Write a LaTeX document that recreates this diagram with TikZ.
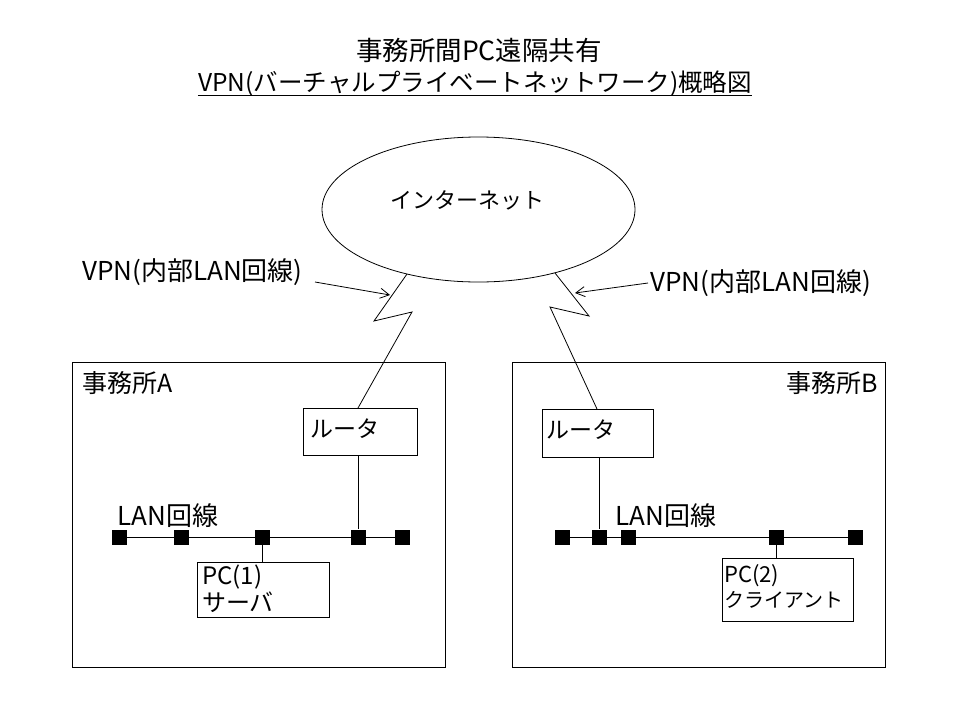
\documentclass[tikz,border=0pt]{standalone}
\usepackage{fontspec}
\setmainfont{Noto Sans CJK JP}
\usetikzlibrary{shapes.geometric,arrows.meta}
\begin{document}
\begin{tikzpicture}[x=1pt,y=-1pt,
  boxline/.style={draw,line width=1pt,anchor=north west,inner sep=0},
  wire/.style={draw,line width=0.8pt},
  sq/.style={fill=black,minimum size=15pt,inner sep=0},
  ttl/.style={font=\fontsize{25}{28}\selectfont,inner sep=0},
  lbl/.style={font=\fontsize{25}{28}\selectfont,inner sep=0},
  small/.style={font=\fontsize{23}{26}\selectfont,inner sep=0},
  arr/.style={draw,line width=0.8pt,-{Straight Barb[length=9pt,width=10pt]}}]
\useasboundingbox (0,0) rectangle (960,720);
\fill[white] (0,0) rectangle (960,720);

% title
\node[ttl,font=\fontsize{26.5}{30}\selectfont] (t1) at (479,50) {事務所間PC遠隔共有};
\node[ttl,font=\fontsize{24.5}{28}\selectfont] (t2) at (475,84) {VPN(バーチャルプライベートネットワーク)概略図};
\draw[line width=1pt] ([yshift=-4pt]t2.base west) -- ([yshift=-4pt]t2.base east);

% internet
\node[draw,ellipse,line width=0.8pt,minimum width=313pt,minimum height=145pt,inner sep=0] (inet) at (478.5,209.5) {};
\node[small,font=\fontsize{22}{26}\selectfont] (inett) at (467,200) {インターネット};

% offices
\node[boxline,minimum width=373pt,minimum height=305pt] (offA) at (72,362) {};
\node[boxline,minimum width=373pt,minimum height=305pt] (offB) at (512,362) {};
\node[lbl,anchor=west] (offAt) at (82,383) {事務所A};
\node[lbl,anchor=east] (offBt) at (878,383) {事務所B};

% routers
\node[boxline,minimum width=114pt,minimum height=47pt] (rA) at (303,408) {};
\node[small,anchor=west] (rAt) at (310,429) {ルータ};
\node[boxline,minimum width=111pt,minimum height=48pt] (rB) at (542,409) {};
\node[small,anchor=west] (rBt) at (546,430) {ルータ};

% PCs
\node[boxline,minimum width=132pt,minimum height=55pt] (pcA) at (197,562) {};
\node[small,anchor=north west,align=left,font=\fontsize{24}{27}\selectfont] (pcAt) at (202,565) {PC(1)\\サーバ};
\node[boxline,minimum width=131pt,minimum height=63pt] (pcB) at (722,558) {};
\node[small,anchor=north west,align=left,font=\fontsize{22}{25}\selectfont] (pcBt) at (724,564) {PC(2)\\{\fontsize{20}{25}\selectfont クライアント}};

% LAN A
\node[lbl,font=\fontsize{26}{30}\selectfont] (lanA) at (168,516) {LAN回線};
\draw[wire] (119,537) -- (402,537);
\node[sq] (a1) at (119,537) {};
\node[sq] (a2) at (181,537) {};
\node[sq] (a3) at (262,537) {};
\node[sq] (a4) at (358,537) {};
\node[sq] (a5) at (402,537) {};
\draw[wire] (a4 |- rA.south) -- (a4);
\draw[wire] (a3) -- (a3 |- pcA.north);

% LAN B
\node[lbl,font=\fontsize{26}{30}\selectfont] (lanB) at (666,516) {LAN回線};
\draw[wire] (562,537) -- (855,537);
\node[sq] (b1) at (562,537) {};
\node[sq] (b2) at (599,537) {};
\node[sq] (b3) at (628,537) {};
\node[sq] (b4) at (776,537) {};
\node[sq] (b5) at (855,537) {};
\draw[wire] (b2 |- rB.south) -- (b2);
\draw[wire] (b4) -- (b4 |- pcB.north);

% lightning links
\coordinate (la1) at (407,274);
\coordinate (la2) at (374,321);
\coordinate (la3) at (412,312);
\coordinate (la4) at (358,408);
\draw[wire] (la1) -- (la2) -- (la3) -- (la4);
\coordinate (lb1) at (555,273);
\coordinate (lb2) at (589,316);
\coordinate (lb3) at (550,307);
\coordinate (lb4) at (597,409);
\draw[wire] (lb1) -- (lb2) -- (lb3) -- (lb4);

% VPN labels
\node[lbl,anchor=west,font=\fontsize{26}{30}\selectfont] (vA) at (82,272) {VPN(内部LAN回線)};
\node[lbl,anchor=west,font=\fontsize{26}{30}\selectfont] (vB) at (650,283) {VPN(内部LAN回線)};
\coordinate (vAs) at (315,282);
\coordinate (vAe) at (390,295);
\coordinate (vBs) at (648,283);
\coordinate (vBe) at (575,293);
\draw[arr] (vAs) -- (vAe);
\draw[arr] (vBs) -- (vBe);
\end{tikzpicture}
\end{document}
